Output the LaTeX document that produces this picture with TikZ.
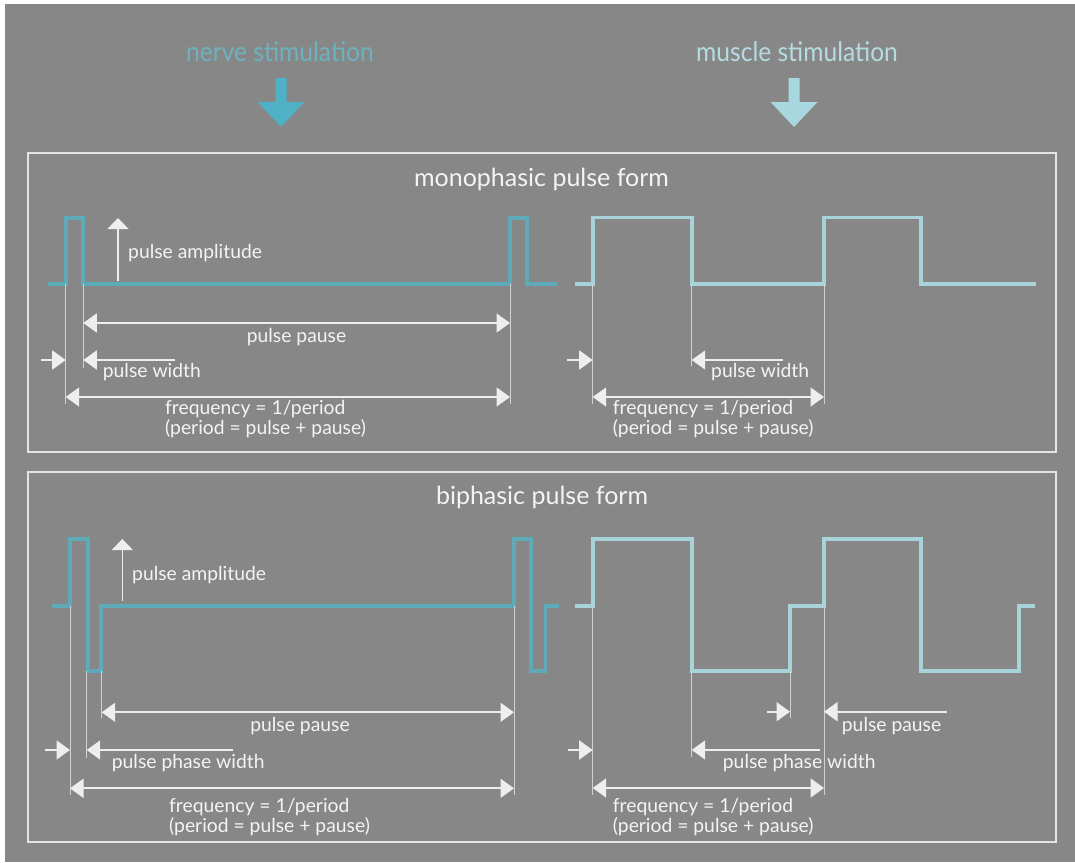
\documentclass[tikz,border=0pt]{standalone}
\usepackage{fontspec}
\setmainfont{Lato}
\usepackage{graphicx}
\usetikzlibrary{arrows.meta}
\definecolor{bgc}{HTML}{878787}
\definecolor{nervec}{HTML}{5DABB8}
\definecolor{musclec}{HTML}{A9D3DA}
\definecolor{nervearr}{HTML}{4FB1C6}
\definecolor{musclearr}{HTML}{A9D7E0}
\definecolor{nervetxt}{HTML}{6DB2BF}
\definecolor{muscletxt}{HTML}{B4DCE2}
\definecolor{txtc}{HTML}{F4F4F4}
\definecolor{dimc}{HTML}{EEEEEE}
\definecolor{extc}{HTML}{D2D2D2}
\definecolor{framec}{HTML}{E4E4E4}
\tikzset{
  wave/.style={line width=3.9pt, line join=miter, line cap=butt},
  nwave/.style={wave, draw=nervec},
  mwave/.style={wave, draw=musclec},
  ext/.style={draw=extc, line width=0.9pt},
  dimline/.style={draw=dimc, line width=1.7pt},
  tipa/.style={dimline, -{Triangle[length=13.5pt,width=19pt]}},
  tipb/.style={dimline, {Triangle[length=13.5pt,width=19pt]}-{Triangle[length=13.5pt,width=19pt]}},
  amparrow/.style={draw=dimc, line width=1.3pt, -{Triangle[length=11pt,width=21pt]}},
  lbl/.style={text=txtc, inner sep=0pt, font=\fontsize{19.3}{17}\selectfont},
  titletxt/.style={text=txtc, inner sep=0pt, font=\fontsize{25}{28}\selectfont},
  headtxt/.style={inner sep=0pt, font=\fontsize{27}{30}\selectfont},
  frame/.style={draw=framec, line width=2pt},
}
\begin{document}
\begin{tikzpicture}[x=1pt,y=-1pt]
\useasboundingbox (0,0) rectangle (1075,862);
\fill[white] (0,0) rectangle (1075,862);
\fill[bgc] (5,4) rectangle (1075,862);

% headers
\node[headtxt, text=nervetxt] (nerve) at (280,52) {\scalebox{0.91}[1]{nerve stimulation}};
\node[headtxt, text=muscletxt] (muscle) at (797,52) {\scalebox{0.91}[1]{muscle stimulation}};
\fill[nervearr] (275.5,78) -- (286.5,78) -- (286.5,102) -- (304.5,102) -- (281,127) -- (257.5,102) -- (275.5,102) -- cycle;
\fill[musclearr] (788.5,78) -- (799.5,78) -- (799.5,102) -- (817.5,102) -- (794,127) -- (770.5,102) -- (788.5,102) -- cycle;

% frames
\draw[frame] (28,153) rectangle (1055.5,452);
\draw[frame] (28,472) rectangle (1055.5,842);
\node[titletxt] (t1) at (541.5,179) {monophasic pulse form};
\node[titletxt] (t2) at (542,497) {biphasic pulse form};

% ================= monophasic, nerve =================
\draw[nwave] (48,284) -- (65.7,284) -- (65.7,218) -- (83.3,218) -- (83.3,284) -- (510,284) -- (510,218) -- (527,218) -- (527,284) -- (557,284);
\coordinate (a1) at (65.7,284);
\coordinate (a2) at (83.3,284);
\coordinate (a3) at (510,284);
\draw[ext] (a1) -- (65.7,404);
\draw[ext] (a2) -- (83.3,368);
\draw[ext] (a3) -- (510,404);
\coordinate (amp1s) at (118,281);
\coordinate (amp1e) at (118,218);
\draw[amparrow] (amp1s) -- (amp1e);
\node[lbl, anchor=west] (amp1) at (128,253) {pulse amplitude};
\coordinate (pp1a) at (83.3,323);
\coordinate (pp1b) at (510,323);
\draw[tipb] (pp1a) -- (pp1b);
\node[lbl] (pp1) at (296.5,337) {pulse pause};
\coordinate (pw1a) at (40.7,360);
\coordinate (pw1b) at (65.7,360);
\coordinate (pw1c) at (175,360);
\coordinate (pw1d) at (83.3,360);
\draw[tipa] (pw1a) -- (pw1b);
\draw[tipa] (pw1c) -- (pw1d);
\node[lbl, anchor=west] (pw1) at (102.7,372) {pulse width};
\coordinate (f1a) at (65.7,397);
\coordinate (f1b) at (510,397);
\draw[tipb] (f1a) -- (f1b);
\node[lbl, anchor=west, align=left] (fq1) at (165,419) {frequency = 1/period\\(period = pulse + pause)};

% ================= monophasic, muscle =================
\draw[mwave] (575,284) -- (592.7,284) -- (592.7,217.5) -- (691.7,217.5) -- (691.7,284) -- (824,284) -- (824,217.5) -- (921,217.5) -- (921,284) -- (1036,284);
\coordinate (b1) at (592.7,284);
\coordinate (b2) at (691.7,284);
\coordinate (b3) at (824,284);
\draw[ext] (b1) -- (592.7,404);
\draw[ext] (b2) -- (691.7,366);
\draw[ext] (b3) -- (824,404);
\coordinate (pw2a) at (566.7,360);
\coordinate (pw2b) at (592.7,360);
\coordinate (pw2c) at (782.7,360);
\coordinate (pw2d) at (691.7,360);
\draw[tipa] (pw2a) -- (pw2b);
\draw[tipa] (pw2c) -- (pw2d);
\node[lbl, anchor=west] (pw2) at (711,372) {pulse width};
\coordinate (f2a) at (592.7,397);
\coordinate (f2b) at (824,397);
\draw[tipb] (f2a) -- (f2b);
\node[lbl, anchor=west, align=left] (fq2) at (612.7,419) {frequency = 1/period\\(period = pulse + pause)};

% ================= biphasic, nerve =================
\draw[nwave] (51.7,606) -- (70,606) -- (70,539) -- (87.7,539) -- (87.7,670.7) -- (100.7,670.7) -- (100.7,606) -- (514,606) -- (514,539) -- (531,539) -- (531,670.7) -- (545.5,670.7) -- (545.5,606) -- (559,606);
\coordinate (c1) at (70,606);
\coordinate (c2) at (86.7,670.7);
\coordinate (c3) at (101.7,670.7);
\coordinate (c4) at (514,606);
\draw[ext] (c1) -- (70,795);
\draw[ext] (c2) -- (86.7,758);
\draw[ext] (c3) -- (101.7,718);
\draw[ext] (c4) -- (514,795);
\coordinate (amp3s) at (122.3,601);
\coordinate (amp3e) at (122.3,539);
\draw[amparrow] (amp3s) -- (amp3e);
\node[lbl, anchor=west] (amp3) at (132,575) {pulse amplitude};
\coordinate (pp3a) at (101.7,712.3);
\coordinate (pp3b) at (514,712.3);
\draw[tipb] (pp3a) -- (pp3b);
\node[lbl] (pp3) at (300,726) {pulse pause};
\coordinate (pw3a) at (45,750);
\coordinate (pw3b) at (70,750);
\coordinate (pw3c) at (233,750);
\coordinate (pw3d) at (86.7,750);
\draw[tipa] (pw3a) -- (pw3b);
\draw[tipa] (pw3c) -- (pw3d);
\node[lbl, anchor=west] (pw3) at (111.7,763) {pulse phase width};
\coordinate (f3a) at (70,788.3);
\coordinate (f3b) at (514,788.3);
\draw[tipb] (f3a) -- (f3b);
\node[lbl, anchor=west, align=left] (fq3) at (169,817) {frequency = 1/period\\(period = pulse + pause)};

% ================= biphasic, muscle =================
\draw[mwave] (575,606) -- (592.7,606) -- (592.7,539) -- (691.7,539) -- (691.7,670.7) -- (790,670.7) -- (790,606) -- (824,606) -- (824,539) -- (921,539) -- (921,670.7) -- (1019.3,670.7) -- (1019.3,606) -- (1035,606);
\coordinate (d1) at (592.7,606);
\coordinate (d2) at (691.7,670.7);
\coordinate (d3) at (790,670.7);
\coordinate (d4) at (824,606);
\draw[ext] (d1) -- (592.7,795);
\draw[ext] (d2) -- (691.7,757);
\draw[ext] (d3) -- (790,718);
\draw[ext] (d4) -- (824,795);
\coordinate (pp4a) at (766.7,711.7);
\coordinate (pp4b) at (790,711.7);
\coordinate (pp4c) at (947,711.7);
\coordinate (pp4d) at (824,711.7);
\draw[tipa] (pp4a) -- (pp4b);
\draw[tipa] (pp4c) -- (pp4d);
\node[lbl, anchor=west] (pp4) at (841.7,726) {pulse pause};
\coordinate (pw4a) at (568.3,750);
\coordinate (pw4b) at (592.7,750);
\coordinate (pw4c) at (820,750);
\coordinate (pw4d) at (691.7,750);
\draw[tipa] (pw4a) -- (pw4b);
\draw[tipa] (pw4c) -- (pw4d);
\node[lbl, anchor=west] (pw4) at (722.7,763.3) {pulse phase width};
\coordinate (f4a) at (592.7,788);
\coordinate (f4b) at (824,788);
\draw[tipb] (f4a) -- (f4b);
\node[lbl, anchor=west, align=left] (fq4) at (612.7,817) {frequency = 1/period\\(period = pulse + pause)};
\end{tikzpicture}
\end{document}
